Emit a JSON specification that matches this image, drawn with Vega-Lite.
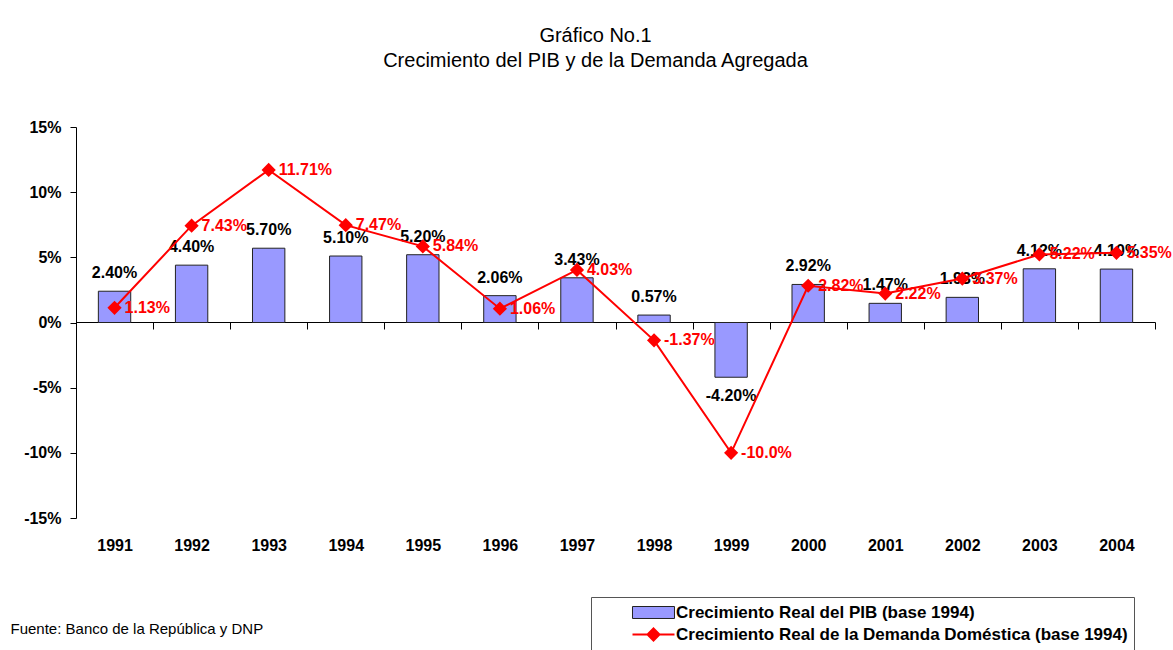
{
  "$schema": "https://vega.github.io/schema/vega-lite/v6.json",
  "autosize": "none",
  "width": 1079,
  "height": 391,
  "padding": {"left": 76, "top": 127, "right": 18, "bottom": 132},
  "background": "white",
  "config": {
    "font": "Liberation Sans",
    "view": {"stroke": null}
  },
  "title": {
    "text": ["Gráfico No.1", "Crecimiento del PIB y de la Demanda Agregada"],
    "frame": "group",
    "anchor": "middle",
    "dx": -20,
    "offset": 48,
    "fontSize": 20,
    "fontWeight": "normal",
    "color": "#000000",
    "lineHeight": 25
  },
  "data": {
    "values": [
      {"year": "1991", "pib": 2.40, "dem": 1.13, "pl": "2.40%", "dl": "1.13%"},
      {"year": "1992", "pib": 4.40, "dem": 7.43, "pl": "4.40%", "dl": "7.43%"},
      {"year": "1993", "pib": 5.70, "dem": 11.71, "pl": "5.70%", "dl": "11.71%"},
      {"year": "1994", "pib": 5.10, "dem": 7.47, "pl": "5.10%", "dl": "7.47%"},
      {"year": "1995", "pib": 5.20, "dem": 5.84, "pl": "5.20%", "dl": "5.84%"},
      {"year": "1996", "pib": 2.06, "dem": 1.06, "pl": "2.06%", "dl": "1.06%"},
      {"year": "1997", "pib": 3.43, "dem": 4.03, "pl": "3.43%", "dl": "4.03%"},
      {"year": "1998", "pib": 0.57, "dem": -1.37, "pl": "0.57%", "dl": "-1.37%"},
      {"year": "1999", "pib": -4.20, "dem": -10.0, "pl": "-4.20%", "dl": "-10.0%"},
      {"year": "2000", "pib": 2.92, "dem": 2.82, "pl": "2.92%", "dl": "2.82%"},
      {"year": "2001", "pib": 1.47, "dem": 2.22, "pl": "1.47%", "dl": "2.22%"},
      {"year": "2002", "pib": 1.93, "dem": 3.37, "pl": "1.93%", "dl": "3.37%"},
      {"year": "2003", "pib": 4.12, "dem": 5.22, "pl": "4.12%", "dl": "5.22%"},
      {"year": "2004", "pib": 4.10, "dem": 5.35, "pl": "4.10%", "dl": "5.35%"}
    ]
  },
  "encoding": {
    "x": {
      "field": "year",
      "type": "ordinal",
      "scale": {"paddingInner": 0, "paddingOuter": 0},
      "axis": {
        "orient": "bottom",
        "offset": -196,
        "labelAngle": 0,
        "domainColor": "#000000",
        "domainWidth": 1,
        "tickColor": "#000000",
        "tickBand": "extent",
        "tickSize": 7,
        "labelPadding": 208,
        "labelFontSize": 16,
        "labelFontWeight": "bold",
        "labelColor": "#000000",
        "title": "Fuente: Banco de la República y DNP",
        "titleX": -66,
        "titleY": 306,
        "titleAlign": "left",
        "titleAnchor": "start",
        "titleBaseline": "middle",
        "titleFontSize": 15,
        "titleFontWeight": "normal",
        "titleColor": "#000000"
      }
    }
  },
  "layer": [
    {
      "mark": {"type": "bar", "width": {"band": 0.42}, "stroke": "#222222", "strokeWidth": 1, "opacity": 1},
      "encoding": {
        "y": {
          "field": "pib",
          "type": "quantitative",
          "scale": {"domain": [-15, 15], "nice": false, "zero": false},
          "axis": {
            "values": [-15, -10, -5, 0, 5, 10, 15],
            "labelExpr": "datum.value + '%'",
            "grid": false,
            "title": null,
            "domainColor": "#000000",
            "tickColor": "#000000",
            "tickSize": 6,
            "labelPadding": 9,
            "labelFontSize": 16,
            "labelFontWeight": "bold",
            "labelColor": "#000000"
          }
        },
        "fill": {
          "datum": "Crecimiento Real del PIB (base 1994)",
          "scale": {"range": ["#9999FF"]},
          "legend": {
            "orient": "none",
            "legendX": 521,
            "legendY": 477,
            "title": null,
            "padding": 0,
            "symbolType": "M3.857,-0.857H9.857V0.857H3.857Z",
            "symbolSize": 196,
            "symbolStrokeColor": "#222222",
            "symbolStrokeWidth": 1,
            "labelFontSize": 17,
            "labelFontWeight": "bold",
            "labelColor": "#000000",
            "labelLimit": 700,
            "labelOffset": 62
          }
        }
      }
    },
    {
      "transform": [{"filter": "datum.pib >= 0"}],
      "mark": {"type": "text", "baseline": "bottom", "dy": -10, "fontSize": 16, "fontWeight": "bold", "color": "#000000"},
      "encoding": {
        "y": {"field": "pib", "type": "quantitative"},
        "text": {"field": "pl"}
      }
    },
    {
      "transform": [{"filter": "datum.pib < 0"}],
      "mark": {"type": "text", "baseline": "top", "dy": 11, "fontSize": 16, "fontWeight": "bold", "color": "#000000"},
      "encoding": {
        "y": {"field": "pib", "type": "quantitative"},
        "text": {"field": "pl"}
      }
    },
    {
      "mark": {"type": "line", "strokeWidth": 2, "point": {"filled": true, "fill": "#FF0000", "shape": "diamond", "size": 130, "opacity": 1}},
      "encoding": {
        "y": {"field": "dem", "type": "quantitative"},
        "stroke": {
          "datum": "Crecimiento Real de la Demanda Doméstica (base 1994)",
          "scale": {"range": ["#FF0000"]},
          "legend": {
            "orient": "none",
            "legendX": 515,
            "legendY": 470,
            "title": " ",
            "titleFontSize": 17,
            "titlePadding": 6,
            "padding": 6,
            "strokeColor": "#555555",
            "symbolType": "M3.857,0H9.857M6.857,-0.857L7.714,0L6.857,0.857L6,0Z",
            "symbolSize": 196,
            "symbolFillColor": "#FF0000",
            "symbolStrokeWidth": 2,
            "labelFontSize": 17,
            "labelFontWeight": "bold",
            "labelColor": "#000000",
            "labelLimit": 700,
            "labelOffset": 62
          }
        }
      }
    },
    {
      "mark": {"type": "text", "align": "left", "baseline": "middle", "dx": 10, "fontSize": 16, "fontWeight": "bold", "color": "#FF0000"},
      "encoding": {
        "y": {"field": "dem", "type": "quantitative"},
        "text": {"field": "dl"}
      }
    }
  ]
}
